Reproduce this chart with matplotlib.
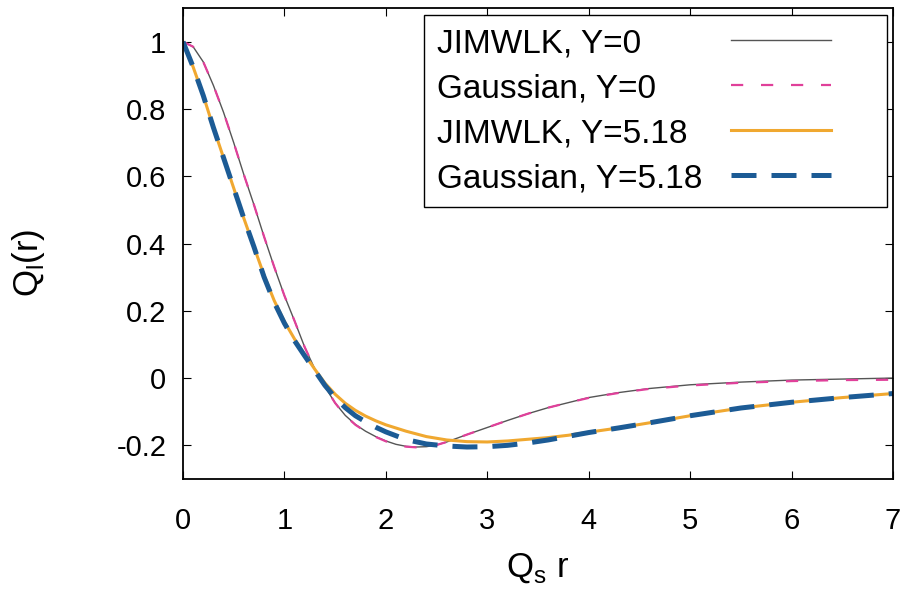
import numpy as np
import matplotlib
matplotlib.use("Agg")
import matplotlib.pyplot as plt
from matplotlib.ticker import FuncFormatter
from matplotlib.legend_handler import HandlerLine2D

plt.rcParams['font.family'] = ['Liberation Sans', 'DejaVu Sans']
plt.rcParams['mathtext.fontset'] = 'custom'
plt.rcParams['mathtext.rm'] = 'Liberation Sans'
plt.rcParams['axes.unicode_minus'] = False

# Y=0 curves
x_y0 = [0, 0.1, 0.2, 0.3, 0.4, 0.5, 0.6, 0.7, 0.8, 0.9, 1.0, 1.1, 1.2, 1.3,
        1.4, 1.5, 1.6, 1.7, 1.8, 1.9, 2.0, 2.1, 2.2, 2.3, 2.4, 2.5, 2.6, 2.8,
        3.0, 3.2, 3.4, 3.6, 3.8, 4.0, 4.3, 4.6, 5.0, 5.5, 6.0, 6.5, 7.0]
jimwlk_y0 = [1.0, 0.985, 0.94, 0.87, 0.79, 0.70, 0.605, 0.515, 0.42, 0.33,
             0.245, 0.17, 0.092, 0.027, -0.026, -0.074, -0.111, -0.138,
             -0.158, -0.174, -0.187, -0.197, -0.203, -0.205, -0.204, -0.199,
             -0.19, -0.168, -0.147, -0.126, -0.106, -0.088, -0.073, -0.058,
             -0.043, -0.031, -0.02, -0.012, -0.006, -0.003, 0.0]
gauss_y0 = [1.0, 0.985, 0.94, 0.87, 0.79, 0.70, 0.605, 0.515, 0.42, 0.33,
            0.245, 0.17, 0.092, 0.027, -0.026, -0.074, -0.112, -0.139,
            -0.159, -0.175, -0.188, -0.198, -0.204, -0.206, -0.204, -0.199,
            -0.19, -0.168, -0.147, -0.126, -0.106, -0.088, -0.073, -0.059,
            -0.044, -0.032, -0.022, -0.014, -0.009, -0.006, -0.005]

# Y=5.18 curves
x_y5 = [0, 0.1, 0.2, 0.3, 0.4, 0.5, 0.6, 0.7, 0.8, 0.9, 1.0, 1.1, 1.2, 1.3,
        1.4, 1.5, 1.6, 1.7, 1.8, 1.9, 2.0, 2.2, 2.4, 2.6, 2.8, 3.0, 3.2, 3.4,
        3.6, 3.8, 4.0, 4.3, 4.6, 5.0, 5.5, 6.0, 6.5, 7.0]
jimwlk_y5 = [1.0, 0.925, 0.84, 0.745, 0.655, 0.565, 0.475, 0.39, 0.305, 0.23,
             0.168, 0.116, 0.07, 0.026, -0.015, -0.048, -0.075, -0.096,
             -0.113, -0.127, -0.139, -0.158, -0.174, -0.184, -0.189, -0.19,
             -0.187, -0.182, -0.177, -0.17, -0.161, -0.148, -0.133, -0.112,
             -0.089, -0.072, -0.058, -0.046]
gauss_y5 = [1.0, 0.925, 0.84, 0.745, 0.655, 0.565, 0.475, 0.39, 0.30, 0.225,
            0.163, 0.111, 0.066, 0.022, -0.022, -0.058, -0.088, -0.112,
            -0.13, -0.146, -0.16, -0.183, -0.196, -0.202, -0.205, -0.204,
            -0.2, -0.193, -0.184, -0.173, -0.162, -0.148, -0.133, -0.112,
            -0.089, -0.072, -0.058, -0.046]

yticks = [-0.2, 0, 0.2, 0.4, 0.6, 0.8, 1]


class ShortLine(HandlerLine2D):
    # gnuplot style key: sample line leaves a gap before the right border
    def create_artists(self, legend, orig_handle, xdescent, ydescent,
                       width, height, fontsize, trans):
        return super().create_artists(legend, orig_handle, xdescent, ydescent,
                                      width * 0.7, height, fontsize, trans)


fig = plt.figure(figsize=(9.08, 5.95), dpi=100)
ax = fig.add_axes([0.2015, 0.195, 0.782, 0.7915])

ax.plot(x_y0, jimwlk_y0, color='#555555', lw=1.0, label='JIMWLK, Y=0')
ax.plot(x_y0, gauss_y0, color='#e0409a', lw=1.6, dashes=(5.5, 8),
        label='Gaussian, Y=0')
ax.plot(x_y5, jimwlk_y5, color='#f0a830', lw=2.2, label='JIMWLK, Y=5.18')
ax.plot(x_y5, gauss_y5, color='#1c5b95', lw=3.6, dashes=(5, 3),
        label='Gaussian, Y=5.18')

ax.set_xlim(0, 7)
ax.set_ylim(-0.3, 1.1)
ax.set_xticks(range(8))
ax.set_yticks(yticks)
ax.yaxis.set_major_formatter(FuncFormatter(lambda v, p: ('%g' % v)))
ax.tick_params(direction='in', length=6, width=0.8, top=True, right=True,
               labelsize=21)
ax.tick_params(axis='x', pad=20)
ax.tick_params(axis='y', pad=12)
for s in ax.spines.values():
    s.set_linewidth(1.3)

ax.set_xlabel(r'Q$_\mathregular{s}$ r', fontsize=25, labelpad=12)
ax.set_ylabel(r'Q$_\mathregular{l}$(r)', fontsize=25)
ax.yaxis.set_label_coords(-0.192, 0.46)

leg = ax.legend(loc='upper right', bbox_to_anchor=(0.9915, 0.985), fontsize=24,
                markerfirst=False, handlelength=4.3, labelspacing=0.42,
                borderpad=0.39, handletextpad=0.85, fancybox=False,
                framealpha=1, edgecolor='black', borderaxespad=0,
                handler_map={plt.Line2D: ShortLine()})
leg.get_frame().set_linewidth(1.0)

# left-align the key texts: widen the gap of shorter rows
fig.canvas.draw()
r = fig.canvas.get_renderer()
rows = leg._legend_handle_box.get_children()[0].get_children()
widths = [t.get_window_extent(r).width for t in leg.get_texts()]
for row, w in zip(rows, widths):
    row.sep += (max(widths) - w) * 72.0 / fig.dpi

fig.savefig('out.png', dpi=100)
